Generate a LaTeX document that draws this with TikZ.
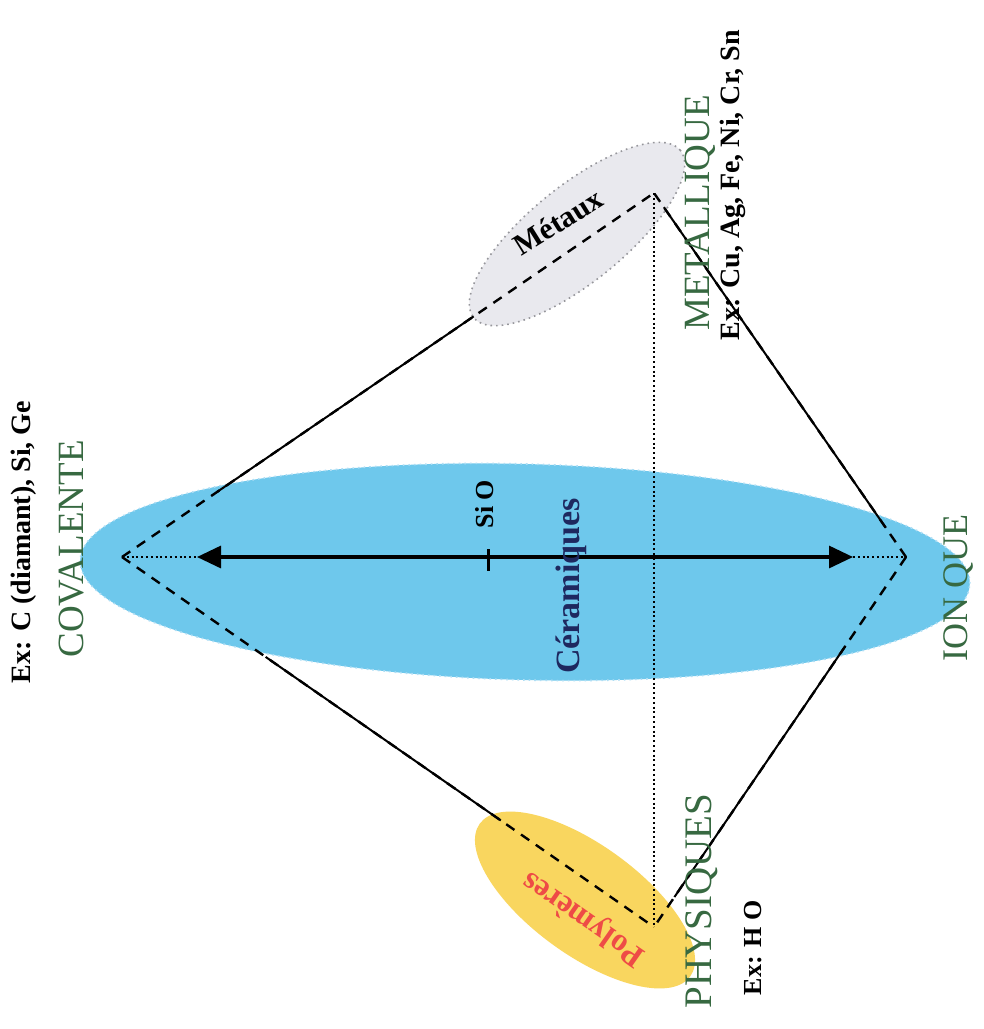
\documentclass[tikz,border=0pt]{standalone}
\usepackage{fontspec}
\setmainfont{Liberation Serif}
\usetikzlibrary{arrows.meta,calc}
\definecolor{labgreen}{RGB}{55,105,65}
\definecolor{ceramblue}{RGB}{110,200,236}
\definecolor{ceramedge}{RGB}{175,222,245}
\definecolor{metgrey}{RGB}{233,233,238}
\definecolor{metedge}{RGB}{150,150,155}
\definecolor{polyyellow}{RGB}{249,214,95}
\definecolor{navyc}{RGB}{30,40,95}
\definecolor{polyred}{RGB}{238,75,70}
\begin{document}
\begin{tikzpicture}[x=0.5pt,y=-0.5pt,
  vlabel/.style={rotate=90, inner sep=0pt, text=labgreen, font=\fontsize{18.5}{20}\selectfont},
  exlabel/.style={rotate=90, inner sep=0pt, font=\bfseries\fontsize{14}{16}\selectfont},
  bond/.style={line width=1pt},
  dashbond/.style={line width=1.2pt, dash pattern=on 5pt off 4pt},
  dotline/.style={line width=1pt, dash pattern=on 1pt off 1.4pt},
]
\useasboundingbox (0,0) rectangle (984,1029);
\fill[white] (0,0) rectangle (984,1029);
% domains
\filldraw[fill=ceramblue, draw=ceramedge, dotted, line width=0.8pt, rotate around={-1.5:(525,572)}] (525,572) ellipse [x radius=222.5pt, y radius=54pt];
\filldraw[fill=metgrey, draw=metedge, dotted, line width=0.8pt, rotate around={39:(577,234)}] (577,234) ellipse [x radius=66.5pt, y radius=24pt];
\fill[polyyellow, rotate around={-36:(585,900)}] (585,900) ellipse [x radius=65pt, y radius=27.5pt];
% vertices
\coordinate (C) at (122,557);
\coordinate (I) at (906,557);
\coordinate (M) at (654,193);
\coordinate (P) at (654,927);
\coordinate (Lt) at (197,557);
\coordinate (Rt) at (853,557);
% break points between dashed and solid parts
\coordinate (CM1) at ($(C)!0.179!(M)$);
\coordinate (CM2) at ($(C)!0.661!(M)$);
\coordinate (CP1) at ($(C)!0.27!(P)$);
\coordinate (CP2) at ($(C)!0.712!(P)$);
\coordinate (IM1) at ($(I)!0.08!(M)$);
\coordinate (IM2) at ($(I)!0.961!(M)$);
\coordinate (IP1) at ($(I)!0.24!(P)$);
\coordinate (IP2) at ($(I)!0.919!(P)$);
% edges
\draw[dashbond] (C) -- (M);
\draw[bond] (CM1) -- (CM2);
\draw[dashbond] (C) -- (P);
\draw[bond] (CP1) -- (CP2);
\draw[dashbond] (I) -- (M);
\draw[bond] (IM1) -- (IM2);
\draw[dashbond] (I) -- (P);
\draw[bond] (IP1) -- (IP2);
% dotted
\draw[dotline] (M) -- (P);
\draw[dotline] (C) -- (Lt);
\draw[dotline] (Rt) -- (I);
% main arrow
\draw[line width=1.6pt, {Triangle[length=12pt,width=11pt]}-{Triangle[length=12pt,width=11pt]}] (Lt) -- (Rt);
\coordinate (tk1) at (488,549);
\coordinate (tk2) at (488,571);
\draw[line width=1.5pt] (tk1) -- (tk2);
% labels
\node[exlabel] (exC) at (24,542) {Ex: C (diamant), Si, Ge};
\node[vlabel] (cov) at (72,549) {COVALENTE};
\node[vlabel] (met) at (700,213) {METALLIQUE};
\node[exlabel] (exM) at (733,185) {Ex: Cu, Ag, Fe, Ni, Cr, Sn};
\node[vlabel, font=\fontsize{18}{20}\selectfont] (ion) at (958,588) {ION QUE};
\node[vlabel, font=\fontsize{19.5}{21}\selectfont] (phy) at (702,901) {PHYSIQUES};
\node[exlabel, font=\bfseries\fontsize{13}{15}\selectfont] (exP) at (753,948) {Ex: H O};
\node[rotate=90, inner sep=0pt, font=\bfseries\fontsize{13}{15}\selectfont] (sio) at (485,504) {Si O};
\node[rotate=90, inner sep=0pt, text=navyc, font=\bfseries\fontsize{17}{19}\selectfont] (cer) at (571,586) {Céramiques};
\node[rotate=32, inner sep=0pt, font=\bfseries\fontsize{15}{17}\selectfont] (metx) at (558,222) {Métaux};
\node[rotate=145, inner sep=0pt, text=polyred, font=\bfseries\fontsize{16}{18}\selectfont] (poly) at (584,918) {Polymères};
\end{tikzpicture}
\end{document}
